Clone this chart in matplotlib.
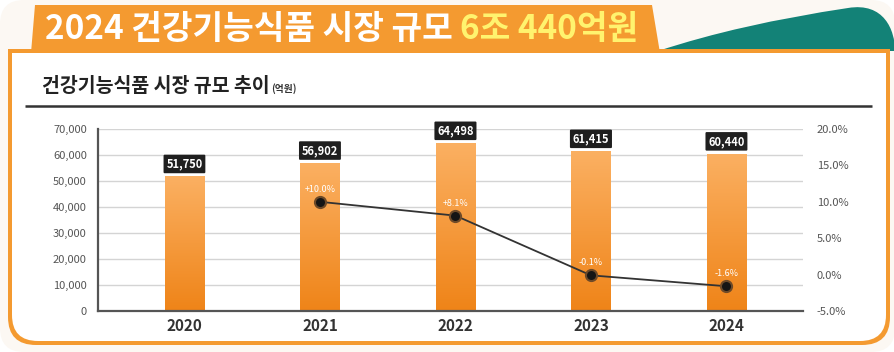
import numpy as np
import matplotlib
matplotlib.use("Agg")
import matplotlib.pyplot as plt
from matplotlib.path import Path
from matplotlib.patches import PathPatch, FancyBboxPatch, Polygon
from matplotlib.colors import LinearSegmentedColormap

plt.rcParams['font.family'] = ['Noto Sans CJK KR', 'DejaVu Sans']

# data
years = ["2020", "2021", "2022", "2023", "2024"]
market_size = [51750, 56902, 64498, 61415, 60440]
growth = [np.nan, 10.0, 8.1, -0.1, -1.6]
growth_labels = ["", "+10.0%", "+8.1%", "-0.1%", "-1.6%"]
left_ticks = [0, 10000, 20000, 30000, 40000, 50000, 60000, 70000]
right_ticks = [-5, 0, 5, 10, 15, 20]

W, H = 895, 352
ORANGE = "#f49a30"
TEAL = "#138277"


def bottom_round_rect(x0, y0, x1, y1, r):
    # square top corners, rounded bottom corners (y grows downward)
    verts = [(x0, y0), (x1, y0), (x1, y1 - r), (x1, y1), (x1 - r, y1),
             (x0 + r, y1), (x0, y1), (x0, y1 - r), (x0, y0)]
    codes = [Path.MOVETO, Path.LINETO, Path.LINETO, Path.CURVE3, Path.CURVE3,
             Path.LINETO, Path.CURVE3, Path.CURVE3, Path.CLOSEPOLY]
    return Path(verts, codes)


fig = plt.figure(figsize=(W / 100, H / 100), dpi=100, facecolor="white")

# decoration layer in pixel coords
bg = fig.add_axes([0, 0, 1, 1], zorder=0)
bg.set_xlim(0, W)
bg.set_ylim(H, 0)
bg.axis("off")

bg.add_patch(FancyBboxPatch((0, 0), W, H, boxstyle="round,pad=0,rounding_size=24",
                            fc="#fcf8f3", ec="none"))

teal = Path([(658, 51), (740, 24), (848, 8), (884, 2), (895, 30), (895, 51), (658, 51)],
            [Path.MOVETO, Path.CURVE3, Path.CURVE3, Path.CURVE4, Path.CURVE4, Path.CURVE4,
             Path.CLOSEPOLY])
bg.add_patch(PathPatch(teal, fc=TEAL, ec="none"))

bg.add_patch(PathPatch(bottom_round_rect(8, 49, 890, 345, 28), fc=ORANGE, ec="none"))
bg.add_patch(PathPatch(bottom_round_rect(12, 53, 886, 341, 26), fc="white", ec="none"))
bg.add_patch(Polygon([(31, 53), (35, 5), (652, 5), (660, 53)], closed=True,
                     fc=ORANGE, ec="none"))

t1 = bg.text(45, 30, "2024 건강기능식품 시장 규모 ", color="white", fontsize=24,
             fontweight="black", va="center", ha="left")
bg.annotate("6조 440억원", xy=(1, 0), xycoords=t1, va="bottom", ha="left",
            color="#fff36e", fontsize=24, fontweight="black")

t2 = bg.text(42, 87, "건강기능식품 시장 규모 추이", color="#222222", fontsize=14,
             fontweight="bold", va="center", ha="left")
bg.annotate("(억원)", xy=(1, 0), xycoords=t2, xytext=(1, 2), textcoords="offset points",
            va="bottom", ha="left", color="#333333", fontsize=7, fontweight="bold")
bg.plot([25, 872], [106, 106], color="#333333", lw=1.8, solid_capstyle="butt")

# chart
ax = fig.add_axes([98 / W, (H - 311) / H, (803 - 98) / W, (311 - 129) / H], zorder=1)
ax.set_facecolor("none")
x = np.arange(len(years))
bars = ax.bar(x, market_size, width=0.29, color="#f39a3a", zorder=2)

cmap = LinearSegmentedColormap.from_list("barfade", ["#fbb062", "#ef8418"])
grad = np.linspace(0, 1, 256).reshape(-1, 1)
for b in bars:
    im = ax.imshow(grad, extent=[b.get_x(), b.get_x() + b.get_width(), 0, b.get_height()],
                   aspect="auto", cmap=cmap, zorder=2.5)
    im.set_clip_path(b)

for xi, v in zip(x, market_size):
    ax.annotate(f"{v:,}", xy=(xi, v), xytext=(0, 9), textcoords="offset points",
                ha="center", va="center", color="white", fontsize=8, fontweight="bold",
                bbox=dict(boxstyle="round,pad=0.25,rounding_size=0.1", fc="#1f1f1f", ec="none"),
                zorder=4)

ax.set_xlim(-0.638, 4.565)
ax.set_ylim(0, 70000)
ax.set_yticks(left_ticks)
ax.set_yticklabels([f"{v:,}" for v in left_ticks])
ax.set_xticks(x)
ax.set_xticklabels(years, fontsize=11, fontweight="bold", color="#333333")
ax.tick_params(axis="y", length=0, pad=8, labelsize=8, labelcolor="#555555")
ax.tick_params(axis="x", length=0, pad=5)
ax.grid(axis="y", color="#d4d4d4", lw=1, zorder=0)
ax.set_axisbelow(True)
for s in ["top", "right"]:
    ax.spines[s].set_visible(False)
for s in ["left", "bottom"]:
    ax.spines[s].set_color("#555555")
    ax.spines[s].set_linewidth(1.6)

ax2 = ax.twinx()
ax2.set_zorder(2)
ax2.plot(x, growth, color="#333333", lw=1.3, marker="o", markersize=8,
         markerfacecolor="#151515", markeredgecolor="#6e4a28", markeredgewidth=1.5)
for xi, g, lab in zip(x, growth, growth_labels):
    if lab:
        ax2.annotate(lab, xy=(xi, g), xytext=(0, 9), textcoords="offset points",
                     ha="center", va="center", color="white", fontsize=6.5)
ax2.set_ylim(-5, 20)
ax2.set_yticks(right_ticks)
ax2.set_yticklabels([f"{v:.1f}%" for v in right_ticks])
ax2.tick_params(axis="y", length=0, pad=10, labelsize=8, labelcolor="#555555")
for s in ax2.spines.values():
    s.set_visible(False)

fig.savefig("out.png", dpi=100, facecolor=fig.get_facecolor())
